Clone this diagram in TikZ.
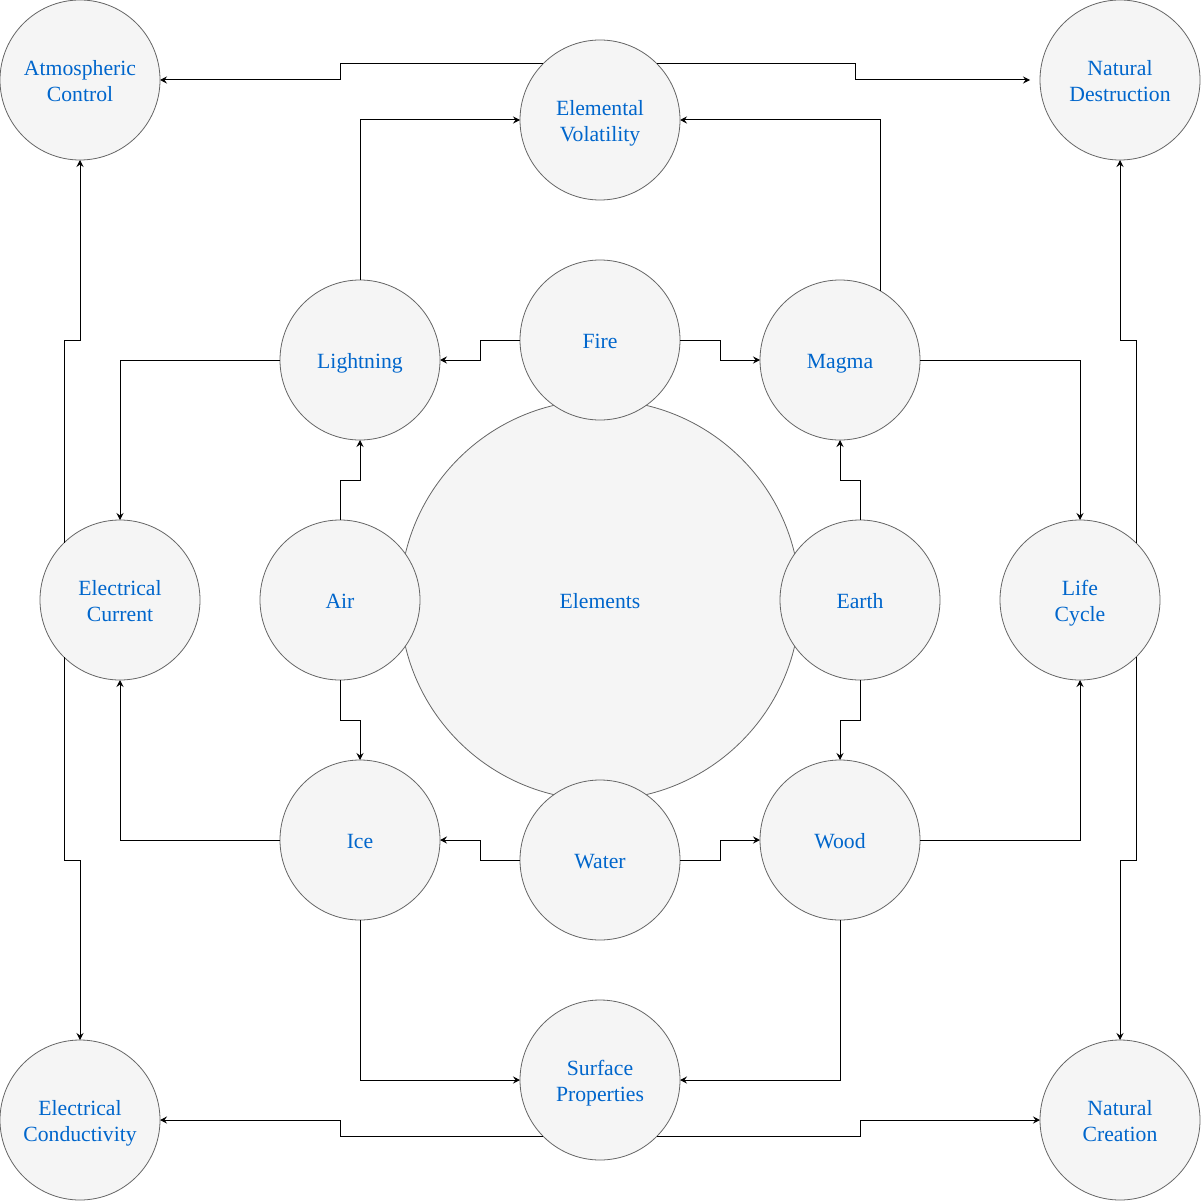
\documentclass[tikz,border=0pt]{standalone}
\usepackage{fontspec}
\setmainfont{Liberation Serif}
\usetikzlibrary{arrows.meta}
\definecolor{txt}{HTML}{0066CC}
\definecolor{cfill}{HTML}{F5F5F5}
\definecolor{cline}{HTML}{666666}
\newcommand\lstrut{\rule[-7.8pt]{0pt}{32pt}}
\begin{document}
\begin{tikzpicture}[x=1pt,y=-1pt,
  circ/.style={circle,draw=cline,fill=cfill,line width=0.8pt,minimum size=160pt,inner sep=0pt,outer sep=0pt,align=center,text=txt,font=\fontsize{21.7}{26}\selectfont},
  big/.style={circ,minimum size=400pt},
  conn/.style={draw=black,line width=1pt,-{Stealth[length=7pt,width=7pt,inset=2.5pt]}}]
\useasboundingbox (0,0) rectangle (1201,1201);
% nodes
\node[big] (elem) at (600,600) {\lstrut Elements};
\node[circ] (fire) at (600,340) {\lstrut Fire};
\node[circ] (air) at (340,600) {\lstrut Air};
\node[circ] (earth) at (860,600) {\lstrut Earth};
\node[circ] (water) at (600,860) {\lstrut Water};
\node[circ] (light) at (360,360) {\lstrut Lightning};
\node[circ] (magma) at (840,360) {\lstrut Magma};
\node[circ] (ice) at (360,840) {\lstrut Ice};
\node[circ] (wood) at (840,840) {\lstrut Wood};
\node[circ] (ev) at (600,120) {\lstrut Elemental\\\strut Volatility};
\node[circ] (sp) at (600,1080) {\lstrut Surface\\\strut Properties};
\node[circ] (ec) at (120,600) {\lstrut Electrical\\\strut Current};
\node[circ] (life) at (1080,600) {\lstrut Life\\\strut Cycle};
\node[circ] (ac) at (80,80) {\lstrut Atmospheric\\\strut Control};
\node[circ] (nd) at (1120,80) {\lstrut Natural\\\strut Destruction};
\node[circ] (econd) at (80,1120) {\lstrut Electrical\\\strut Conductivity};
\node[circ] (nc) at (1120,1120) {\lstrut Natural\\\strut Creation};
\coordinate (ndend) at (1030,80);
% inner connectors
\draw[conn] (fire.west) -- ++(-40,0) |- (light.east);
\draw[conn] (fire.east) -- ++(40,0) |- (magma.west);
\draw[conn] (air.north) -- ++(0,-40) -| (light.south);
\draw[conn] (air.south) -- ++(0,40) -| (ice.north);
\draw[conn] (earth.north) -- ++(0,-40) -| (magma.south);
\draw[conn] (earth.south) -- ++(0,40) -| (wood.north);
\draw[conn] (water.west) -- ++(-40,0) |- (ice.east);
\draw[conn] (water.east) -- ++(40,0) |- (wood.west);
% middle ring
\draw[conn] (light.north) |- (ev.west);
\draw[conn] (magma.center) ++(40,-69.28) |- (ev.east);
\draw[conn] (light.west) -| (ec.north);
\draw[conn] (magma.east) -| (life.north);
\draw[conn] (ice.west) -| (ec.south);
\draw[conn] (wood.east) -| (life.south);
\draw[conn] (ice.south) |- (sp.west);
\draw[conn] (wood.south) |- (sp.east);
% outer ring
\draw[conn] (ev.center) ++(-57.13,-56) -- (340,64) -- (340,80) -- (ac.east);
\draw[conn] (ev.center) ++(57.13,-56) -- (855,64) -- (855,80) -- (ndend);
\draw[conn] (ec.center) ++(-56,-57.13) -- (64,340) -- (80,340) -- (ac.south);
\draw[conn] (ec.center) ++(-56,57.13) -- (64,860) -- (80,860) -- (econd.north);
\draw[conn] (life.center) ++(56,-57.13) -- (1136,340) -- (1120,340) -- (nd.south);
\draw[conn] (life.center) ++(56,57.13) -- (1136,860) -- (1120,860) -- (nc.north);
\draw[conn] (sp.center) ++(-57.13,56) -- (340,1136) -- (340,1120) -- (econd.east);
\draw[conn] (sp.center) ++(57.13,56) -- (860,1136) -- (860,1120) -- (nc.west);
\end{tikzpicture}
\end{document}
